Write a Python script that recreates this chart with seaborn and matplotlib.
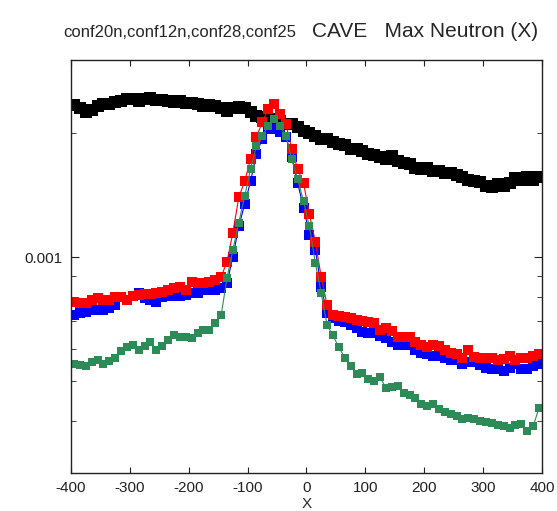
import numpy as np
import pandas as pd
import matplotlib
matplotlib.use("Agg")
import matplotlib.pyplot as plt
import seaborn as sns
from matplotlib.ticker import FixedLocator, NullFormatter

# x positions (bin centres)
x_vals = list(range(-395, 400, 10))

# values in units of 1e-3
black_vals = [2.33, 2.29, 2.25, 2.27, 2.32, 2.35, 2.35, 2.38, 2.39, 2.42,
              2.42, 2.39, 2.42, 2.43, 2.40, 2.40, 2.39, 2.38, 2.39, 2.36,
              2.36, 2.35, 2.32, 2.33, 2.32, 2.29, 2.26, 2.29, 2.31, 2.29,
              2.24, 2.19, 2.18, 2.16, 2.16, 2.14, 2.10, 2.10, 2.07, 2.02,
              2.00, 1.96, 1.93, 1.93, 1.90, 1.88, 1.87, 1.83, 1.83, 1.81,
              1.78, 1.77, 1.75, 1.73, 1.76, 1.71, 1.69, 1.68, 1.64, 1.63,
              1.64, 1.62, 1.62, 1.60, 1.60, 1.58, 1.56, 1.54, 1.53, 1.52,
              1.49, 1.48, 1.50, 1.49, 1.51, 1.55, 1.54, 1.56, 1.54, 1.56]

blue_vals = [0.723, 0.731, 0.735, 0.744, 0.744, 0.744, 0.752, 0.765, 0.800, 0.787,
             0.805, 0.818, 0.796, 0.787, 0.778, 0.800, 0.805, 0.805, 0.805, 0.810,
             0.819, 0.819, 0.832, 0.832, 0.832, 0.841, 0.866, 1.002, 1.186, 1.342,
             1.526, 1.777, 1.933, 2.045, 2.045, 2.010, 1.955, 1.747, 1.510, 1.318,
             1.133, 1.042, 0.846, 0.731, 0.711, 0.699, 0.695, 0.684, 0.672, 0.657,
             0.653, 0.653, 0.643, 0.636, 0.621, 0.611, 0.611, 0.611, 0.594, 0.587,
             0.584, 0.577, 0.577, 0.568, 0.562, 0.562, 0.552, 0.556, 0.556, 0.549,
             0.540, 0.537, 0.537, 0.531, 0.540, 0.552, 0.537, 0.537, 0.546, 0.552]

red_vals = [0.778, 0.774, 0.774, 0.787, 0.796, 0.787, 0.787, 0.800, 0.800, 0.787,
            0.805, 0.810, 0.814, 0.814, 0.819, 0.823, 0.832, 0.841, 0.846, 0.832,
            0.871, 0.866, 0.866, 0.871, 0.880, 0.895, 0.974, 1.146, 1.396, 1.526,
            1.728, 1.955, 2.120, 2.284, 2.350, 2.222, 2.097, 1.828, 1.634, 1.510,
            1.268, 1.090, 0.895, 0.765, 0.723, 0.719, 0.715, 0.711, 0.703, 0.699,
            0.695, 0.691, 0.665, 0.672, 0.661, 0.639, 0.639, 0.639, 0.621, 0.614,
            0.604, 0.611, 0.608, 0.594, 0.587, 0.584, 0.571, 0.594, 0.574, 0.568,
            0.568, 0.568, 0.562, 0.565, 0.577, 0.562, 0.568, 0.568, 0.577, 0.584]

green_vals = [0.552, 0.549, 0.546, 0.556, 0.562, 0.552, 0.559, 0.571, 0.591, 0.604,
              0.611, 0.594, 0.608, 0.621, 0.594, 0.608, 0.628, 0.646, 0.639, 0.639,
              0.636, 0.653, 0.665, 0.665, 0.691, 0.723, 0.890, 1.042, 1.212, 1.403,
              1.634, 1.859, 1.966, 2.076, 2.162, 2.076, 1.966, 1.728, 1.544, 1.365,
              1.186, 0.968, 0.818, 0.684, 0.646, 0.604, 0.571, 0.546, 0.522, 0.525,
              0.508, 0.502, 0.511, 0.482, 0.485, 0.488, 0.468, 0.463, 0.455, 0.440,
              0.435, 0.440, 0.428, 0.421, 0.417, 0.412, 0.405, 0.407, 0.405, 0.400,
              0.398, 0.396, 0.391, 0.389, 0.385, 0.391, 0.394, 0.379, 0.389, 0.431]

series_names = ["conf20n", "conf12n", "conf28", "conf25"]
series_vals = [black_vals, blue_vals, red_vals, green_vals]
series_colors = ["#000000", "#0000ff", "#ff0000", "#2e8b57"]
marker_sizes = [9.0, 7.8, 7.8, 5.6]

title_small = "conf20n,conf12n,conf28,conf25"
title_big = "CAVE   Max Neutron (X)"

sns.set_style("ticks")
plt.rcParams["font.family"] = ["Liberation Sans", "DejaVu Sans"]

fig = plt.figure(figsize=(5.57, 5.11), dpi=100)
ax = fig.add_axes([0.1275, 0.0744, 0.8455, 0.8082])

for name, vals, col, ms in zip(series_names, series_vals, series_colors, marker_sizes):
    df = pd.DataFrame({"x": x_vals, "y": np.array(vals) * 1e-3})
    sns.lineplot(data=df, x="x", y="y", ax=ax, color=col, linewidth=0.8,
                 marker="s", markersize=ms, markeredgewidth=0,
                 estimator=None, sort=True, legend=False)

ax.set_yscale("log")
ax.set_xlim(-400, 400)
ax.set_ylim(3e-4, 3e-3)
ax.set_xticks(range(-400, 401, 100))
ax.set_xticklabels([str(v) for v in range(-400, 401, 100)])
ax.yaxis.set_major_locator(FixedLocator([1e-3]))
ax.set_yticklabels(["0.001"])
ax.yaxis.set_minor_locator(FixedLocator([3e-4, 4e-4, 5e-4, 6e-4, 7e-4, 8e-4, 9e-4, 2e-3, 3e-3]))
ax.yaxis.set_minor_formatter(NullFormatter())

ax.tick_params(axis="both", which="both", direction="in", top=True, right=True,
               labelsize=11, colors="#222222", pad=6)
ax.tick_params(axis="y", which="major", length=6)
ax.tick_params(axis="y", which="minor", length=3.5)
ax.tick_params(axis="x", which="major", length=4.5)
for sp in ax.spines.values():
    sp.set_color("#222222")
    sp.set_linewidth(1.0)

ax.set_xlabel("X", fontsize=11, labelpad=1)
ax.set_ylabel("")

fig.text(0.113, 0.928, title_small, fontsize=12, ha="left", va="baseline")
fig.text(0.560, 0.928, title_big, fontsize=15, ha="left", va="baseline")

fig.savefig("out.png", dpi=100)
